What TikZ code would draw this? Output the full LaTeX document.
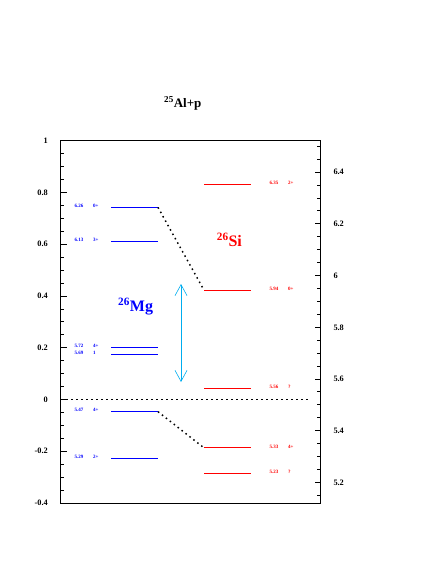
\documentclass[tikz,border=0pt]{standalone}
\usepackage{fontspec}
\setmainfont{Liberation Serif}
\usetikzlibrary{arrows.meta}
\begin{document}
\begin{tikzpicture}[x=1pt,y=-1pt,
  frame/.style={line width=0.8pt},
  tickline/.style={line width=0.5pt},
  axlabel/.style={font=\fontsize{8.3}{9}\selectfont\bfseries,inner sep=0pt},
  mgline/.style={blue,line width=0.9pt},
  siline/.style={red,line width=0.9pt},
  mglab/.style={blue,font=\fontsize{5}{5}\selectfont\bfseries,anchor=west,inner sep=0pt},
  silab/.style={red,font=\fontsize{5}{5}\selectfont\bfseries,anchor=west,inner sep=0pt},
  dotline/.style={line width=1.5pt,dash pattern=on 1.5pt off 3.5pt},
  gaparrow/.style={cyan,line width=0.6pt,{Straight Barb[length=11pt,width=12pt]}-{Straight Barb[length=11pt,width=12pt]}},
  bigmg/.style={blue,font=\fontsize{16}{16}\selectfont\bfseries,inner sep=0pt,anchor=base west},
  bigsi/.style={red,font=\fontsize{16}{16}\selectfont\bfseries,inner sep=0pt,anchor=base west},
]
\useasboundingbox (0,0) rectangle (436,564);

% frame
\draw[frame] (60.5,140) rectangle (320.7,503);

% left ticks
\foreach \i in {-8,...,20} {
  \pgfmathsetmacro\yy{399.3-258.6*0.05*\i}
  \pgfmathsetmacro\len{ifthenelse(mod(\i,4)==0,6,3.5)}
  \draw[tickline] (60.5,\yy) -- ++(\len,0);
}
% right ticks
\foreach \i in {103,...,130} {
  \pgfmathsetmacro\yy{399.3-258.6*(0.05*\i-5.521)}
  \pgfmathsetmacro\len{ifthenelse(mod(\i,4)==0,6,3.5)}
  \draw[tickline] (320.7,\yy) -- ++(-\len,0);
}

% left labels
\node[axlabel,anchor=east] (la1) at (48,140.7) {1};
\node[axlabel,anchor=east] (la2) at (48,192.4) {0.8};
\node[axlabel,anchor=east] (la3) at (48,244.1) {0.6};
\node[axlabel,anchor=east] (la4) at (48,295.9) {0.4};
\node[axlabel,anchor=east] (la5) at (48,347.6) {0.2};
\node[axlabel,anchor=east] (la6) at (48,399.3) {0};
\node[axlabel,anchor=east] (la7) at (48,451.0) {-0.2};
\node[axlabel,anchor=east] (la8) at (48,502.7) {-0.4};

% right labels
\node[axlabel,anchor=west] (ra1) at (333.3,172.2) {6.4};
\node[axlabel,anchor=west] (ra2) at (333.3,223.9) {6.2};
\node[axlabel,anchor=west] (ra3) at (333.3,275.6) {6};
\node[axlabel,anchor=west] (ra4) at (333.3,327.3) {5.8};
\node[axlabel,anchor=west] (ra5) at (333.3,379.1) {5.6};
\node[axlabel,anchor=west] (ra6) at (333.3,430.8) {5.4};
\node[axlabel,anchor=west] (ra7) at (333.3,482.5) {5.2};

% title
\node[font=\fontsize{13}{13}\selectfont\bfseries,inner sep=0pt,anchor=base west] (title) at (164,107.3) {\textsuperscript{25}Al+p};

% 26Mg levels
\coordinate (m1L) at (111,207.4); \coordinate (m1R) at (158,207.4);
\coordinate (m2L) at (111,241.0); \coordinate (m2R) at (158,241.0);
\coordinate (m3L) at (111,347.1); \coordinate (m3R) at (158,347.1);
\coordinate (m4L) at (111,354.8); \coordinate (m4R) at (158,354.8);
\coordinate (m5L) at (111,411.7); \coordinate (m5R) at (158,411.7);
\coordinate (m6L) at (111,458.3); \coordinate (m6R) at (158,458.3);
\foreach \k in {1,...,6} { \draw[mgline] (m\k L) -- (m\k R); }

\node[mglab] (m1e) at (74.5,205.9) {6.26}; \node[mglab] (m1j) at (93,205.9) {0+};
\node[mglab] (m2e) at (74.5,239.5) {6.13}; \node[mglab] (m2j) at (93,239.5) {3+};
\node[mglab] (m3e) at (74.5,345.6) {5.72}; \node[mglab] (m3j) at (93,345.6) {4+};
\node[mglab] (m4e) at (74.5,353.3) {5.69}; \node[mglab] (m4j) at (93,353.3) {1};
\node[mglab] (m5e) at (74.5,410.2) {5.47}; \node[mglab] (m5j) at (93,410.2) {4+};
\node[mglab] (m6e) at (74.5,456.8) {5.29}; \node[mglab] (m6j) at (93,456.8) {2+};

% 26Si levels
\coordinate (s1L) at (204,184.1); \coordinate (s1R) at (251,184.1);
\coordinate (s2L) at (204,290.2); \coordinate (s2R) at (251,290.2);
\coordinate (s3L) at (204,388.4); \coordinate (s3R) at (251,388.4);
\coordinate (s4L) at (204,447.9); \coordinate (s4R) at (251,447.9);
\coordinate (s5L) at (204,473.8); \coordinate (s5R) at (251,473.8);
\foreach \k in {1,...,5} { \draw[siline] (s\k L) -- (s\k R); }

\node[silab] (s1e) at (269.5,182.6) {6.35}; \node[silab] (s1j) at (288,182.6) {2+};
\node[silab] (s2e) at (269.5,288.7) {5.94}; \node[silab] (s2j) at (288,288.7) {0+};
\node[silab] (s3e) at (269.5,386.9) {5.56}; \node[silab] (s3j) at (288,386.9) {?};
\node[silab] (s4e) at (269.5,446.4) {5.33}; \node[silab] (s4j) at (288,446.4) {4+};
\node[silab] (s5e) at (269.5,472.3) {5.23}; \node[silab] (s5j) at (288,472.3) {?};

% dotted connectors
\coordinate (z0) at (61,399.3); \coordinate (z1) at (311,399.3);
\draw[dotline] (z0) -- (z1);
\draw[dotline] (m1R) -- (s2L);
\draw[dotline] (m5R) -- (s4L);

% gap arrow
\coordinate (ga) at (181,284); \coordinate (gb) at (181,382);
\draw[gaparrow] (ga) -- (gb);

% nucleus labels
\node[bigmg] (mg) at (118,311.7) {\textsuperscript{26}Mg};
\node[bigsi] (si) at (216.7,246.7) {\textsuperscript{26}Si};
\end{tikzpicture}
\end{document}
